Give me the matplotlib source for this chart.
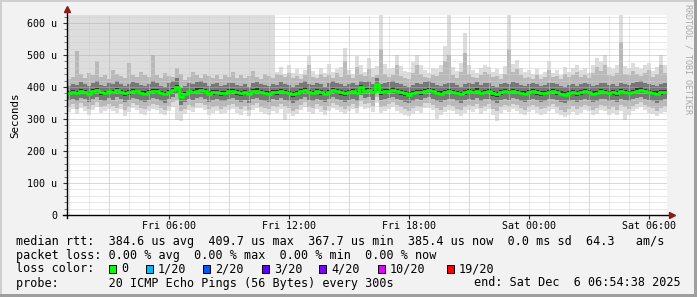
import numpy as np
import matplotlib
matplotlib.use("Agg")
from matplotlib import pyplot
from matplotlib.patches import Rectangle

# one sample every 12 minutes, hours counted from Fri 00:00
start_hour = 0.9106
step_hour = 0.2

# median rtt in microseconds
median = [
    382, 385, 380, 388, 384, 379, 386, 390, 383, 381, 387, 384, 391, 385, 380, 383, 388, 386, 382, 379,
    384, 389, 386, 381, 378, 385, 392, 401, 368, 378, 386, 384, 389, 391, 386, 379, 383, 385, 380, 382,
    386, 388, 383, 380, 384, 378, 386, 389, 384, 381, 379, 385, 383, 388, 384, 382, 377, 381, 386, 392,
    384, 381, 387, 383, 378, 385, 390, 386, 383, 380, 384, 387, 382, 399, 389, 391, 384, 409, 383, 386,
    388, 392, 386, 383, 380, 376, 381, 385, 383, 388, 390, 386, 382, 379, 384, 387, 385, 381, 378, 383,
    386, 384, 389, 382, 385, 387, 380, 377, 383, 386, 384, 388, 385, 382, 379, 384, 386, 383, 380, 382,
    385, 387, 383, 379, 376, 381, 384, 380, 383, 386, 384, 379, 382, 387, 385, 381, 383, 380, 386, 384,
    381, 385, 389, 392, 387, 384, 382, 379, 383, 385,
]
# smoke: slowest / fastest ping of each sample
ping_max = [700] * 52 + [
    448, 462, 440, 470, 445, 456, 442, 452, 497, 450,
    438, 460, 444, 472, 448, 455, 463, 522, 452, 440,
    497, 470, 447, 490, 458, 465, 700, 472, 455, 460,
    501, 466, 450, 447, 478, 501, 470, 452, 445, 460,
    455, 470, 528, 700, 462, 450, 475, 569, 468, 452,
    445, 458, 470, 462, 448, 455, 440, 466, 700, 472,
    485, 458, 446, 452, 440, 455, 437, 448, 481, 445,
    452, 438, 463, 448, 458, 470, 452, 460, 445, 468,
    490, 478, 500, 462, 455, 470, 700, 466, 458, 474,
    462, 455, 468, 475, 450, 462, 500, 470,
]
ping_min = [
    322, 330, 316, 334, 325, 312, 328, 336, 318, 324, 332, 326, 319, 331, 310, 322, 334, 327, 317, 314,
    324, 332, 328, 316, 311, 326, 336, 298, 294, 315, 329, 321, 333, 335, 327, 313, 319, 325, 315, 320,
    328, 332, 320, 314, 324, 310, 329, 333, 322, 317, 313, 326, 319, 332, 297, 318, 309, 315, 327, 336,
    322, 316, 331, 323, 312, 326, 334, 328, 321, 315, 324, 331, 318, 340, 332, 334, 323, 350, 319, 325,
    330, 336, 326, 320, 313, 308, 316, 325, 319, 333, 335, 327, 300, 311, 322, 329, 324, 315, 310, 320,
    327, 323, 332, 317, 325, 330, 314, 294, 320, 328, 323, 331, 326, 317, 312, 321, 328, 320, 313, 317,
    324, 330, 319, 311, 305, 314, 323, 313, 320, 329, 324, 311, 317, 329, 325, 314, 320, 312, 326, 297,
    314, 325, 332, 337, 329, 320, 316, 309, 318, 323,
]
# 2nd slowest / 2nd fastest
ping_hi2 = [
    425, 432, 512, 440, 428, 445, 436, 481, 430, 438, 426, 452, 441, 433, 429, 475, 437, 430, 448, 436,
    430, 501, 438, 427, 444, 435, 430, 460, 442, 421, 432, 448, 436, 429, 440, 433, 427, 438, 425, 436,
    431, 446, 429, 438, 427, 435, 450, 432, 426, 440, 433, 428, 442, 436, 430, 445, 428, 434, 425, 438,
    470, 432, 428, 441, 430, 437, 428, 444, 432, 480, 436, 428, 462, 440, 433, 455, 431, 438, 520, 442,
    430, 436, 468, 434, 428, 426, 444, 470, 440, 431, 428, 438, 433, 446, 480, 500, 436, 429, 448, 505,
    442, 432, 428, 436, 448, 440, 430, 434, 426, 441, 520, 446, 455, 436, 428, 432, 425, 436, 424, 431,
    452, 430, 434, 424, 440, 431, 437, 446, 432, 438, 428, 444, 462, 450, 470, 436, 433, 445, 540, 441,
    436, 450, 440, 434, 444, 452, 431, 440, 468, 445,
]
ping_lo2 = [
    338, 346, 332, 350, 341, 330, 344, 352, 336, 340, 348, 342, 335, 347, 329, 338, 350, 343, 334, 331,
    340, 348, 344, 333, 328, 342, 352, 360, 325, 331, 345, 338, 349, 351, 343, 330, 336, 341, 332, 337,
    344, 348, 337, 331, 340, 327, 345, 349, 339, 334, 330, 342, 336, 348, 340, 335, 326, 332, 343, 352,
    339, 333, 347, 340, 329, 342, 350, 344, 338, 332, 341, 347, 335, 357, 348, 350, 340, 368, 336, 342,
    346, 352, 343, 337, 330, 325, 333, 341, 336, 349, 351, 343, 334, 328, 339, 345, 341, 332, 327, 337,
    343, 340, 348, 334, 342, 346, 331, 326, 337, 344, 340, 347, 343, 334, 329, 338, 344, 337, 330, 334,
    341, 346, 336, 328, 322, 331, 340, 330, 337, 345, 341, 328, 334, 345, 342, 331, 337, 329, 343, 339,
    331, 342, 348, 353, 345, 337, 333, 326, 335, 340,
]
# 5th slowest / 5th fastest
ping_hi5 = [
    404, 410, 406, 415, 408, 402, 412, 418, 407, 404, 414, 409, 420, 410, 404, 409, 416, 412, 405, 402,
    408, 418, 412, 404, 401, 411, 420, 428, 398, 402, 412, 408, 416, 418, 412, 403, 409, 411, 404, 406,
    412, 414, 407, 403, 409, 401, 412, 416, 408, 405, 402, 410, 407, 415, 409, 406, 400, 405, 412, 420,
    410, 405, 414, 408, 401, 411, 418, 412, 408, 404, 410, 414, 406, 420, 416, 420, 410, 428, 408, 414,
    415, 420, 412, 408, 404, 400, 405, 411, 408, 416, 418, 412, 406, 403, 410, 414, 411, 405, 401, 409,
    412, 409, 416, 406, 411, 414, 404, 400, 408, 413, 410, 416, 412, 406, 403, 410, 413, 408, 404, 406,
    411, 414, 408, 403, 400, 405, 410, 404, 408, 413, 410, 403, 407, 414, 412, 405, 409, 404, 413, 410,
    405, 411, 417, 420, 414, 409, 406, 402, 408, 411,
]
ping_lo5 = [
    360, 364, 356, 366, 361, 352, 363, 368, 358, 357, 365, 360, 368, 362, 354, 358, 366, 362, 356, 352,
    360, 366, 362, 355, 350, 361, 370, 378, 345, 352, 363, 360, 366, 368, 362, 353, 358, 361, 355, 357,
    362, 365, 358, 354, 360, 351, 363, 366, 359, 356, 352, 361, 358, 365, 360, 357, 350, 355, 362, 370,
    360, 356, 364, 359, 352, 361, 368, 362, 358, 354, 360, 364, 357, 375, 366, 368, 360, 386, 358, 362,
    365, 370, 362, 358, 353, 349, 355, 361, 358, 366, 368, 362, 356, 352, 359, 363, 361, 355, 351, 358,
    362, 360, 366, 357, 361, 364, 355, 350, 358, 362, 360, 365, 361, 357, 353, 359, 362, 358, 354, 357,
    361, 364, 358, 352, 349, 355, 360, 354, 358, 363, 360, 352, 356, 363, 361, 355, 358, 353, 362, 359,
    355, 361, 366, 370, 363, 359, 356, 351, 357, 361,
]
# 9th slowest / 9th fastest
ping_hi9 = [
    389, 391, 387, 394, 391, 385, 393, 397, 389, 388, 392, 390, 398, 391, 387, 390, 395, 392, 388, 386,
    391, 395, 393, 387, 385, 392, 398, 407, 374, 385, 392, 391, 396, 397, 393, 386, 390, 392, 387, 389,
    393, 395, 390, 386, 391, 385, 393, 396, 390, 388, 386, 392, 390, 395, 391, 389, 384, 388, 393, 399,
    391, 388, 394, 390, 385, 392, 397, 393, 390, 387, 391, 394, 389, 405, 396, 398, 391, 414, 390, 393,
    395, 399, 393, 390, 387, 383, 388, 392, 390, 395, 397, 393, 389, 386, 391, 394, 392, 388, 385, 390,
    393, 391, 396, 389, 392, 394, 387, 384, 390, 393, 391, 395, 392, 389, 386, 391, 393, 390, 387, 389,
    392, 394, 390, 386, 383, 388, 391, 387, 390, 393, 391, 386, 389, 394, 392, 388, 390, 387, 393, 391,
    388, 392, 396, 399, 394, 391, 389, 386, 390, 392,
]
ping_lo9 = [
    376, 378, 374, 381, 377, 373, 379, 383, 376, 374, 380, 377, 384, 378, 373, 376, 381, 379, 375, 372,
    377, 382, 379, 374, 371, 378, 385, 394, 362, 371, 379, 377, 382, 384, 379, 372, 376, 378, 373, 375,
    379, 381, 376, 373, 377, 371, 379, 382, 377, 374, 372, 378, 376, 381, 377, 375, 370, 374, 379, 385,
    377, 374, 380, 376, 371, 378, 383, 379, 376, 373, 377, 380, 375, 392, 382, 384, 377, 402, 376, 379,
    381, 385, 379, 376, 373, 369, 374, 378, 376, 381, 383, 379, 375, 372, 377, 380, 378, 374, 371, 376,
    379, 377, 382, 375, 378, 380, 373, 370, 376, 379, 377, 381, 378, 375, 372, 377, 379, 376, 373, 375,
    378, 380, 376, 372, 369, 374, 377, 373, 376, 379, 377, 372, 375, 380, 378, 374, 376, 373, 379, 377,
    374, 378, 382, 385, 380, 377, 375, 372, 376, 378,
]

tick_hours = [6, 12, 18, 24, 30]
tick_labels = ["Fri 06:00", "Fri 12:00", "Fri 18:00", "Sat 00:00", "Sat 06:00"]
y_labels = ["0", "100 u", "200 u", "300 u", "400 u", "500 u", "600 u"]

legend_rows = [
    "median rtt:  384.6 us avg  409.7 us max  367.7 us min  385.4 us now  0.0 ms sd  64.3   am/s",
    "packet loss: 0.00 % avg  0.00 % max  0.00 % min  0.00 % now",
    "loss color:",
    "probe:       20 ICMP Echo Pings (56 Bytes) every 300s",
]
loss_labels = ["0", "1/20", "2/20", "3/20", "4/20", "10/20", "19/20"]
loss_colors = ["#00ff00", "#00b8ff", "#0059ff", "#5e00ff", "#7e00ff", "#dd00ff", "#ff0000"]
end_text = "end: Sat Dec  6 06:54:38 2025"

W, H = 697, 297
MONO = "DejaVu Sans Mono"

n = len(median)
xs = start_hour + step_hour * np.arange(n + 1)


def ext(a):
    a = np.asarray(a, dtype=float)
    return np.append(a, a[-1])


fig = pyplot.figure(figsize=(W / 100, H / 100), dpi=100, facecolor="#f2f2f2")
ax = fig.add_axes([67 / W, 82 / H, 600 / W, 200 / H])
ax.set_facecolor("white")

# smoke bands, outermost first
bands = [
    (ping_min, ping_max, "#dddddd"),
    (ping_lo2, ping_hi2, "#b9b9b9"),
    (ping_lo5, ping_hi5, "#777777"),
    (ping_lo9, ping_hi9, "#343434"),
]
for i, (lo, hi, col) in enumerate(bands):
    ax.fill_between(xs, ext(lo), ext(hi), step="post", color=col, lw=0, zorder=1 + i)

# grid on top of the smoke, rrdtool style
dots = (0, (1, 1))
x0, x1 = start_hour, start_hour + n * step_hour
for h in range(1, 31):
    major = h % 6 == 3
    ax.axvline(h, color="#dba0a0" if major else "#d0d0d0", lw=0.72, ls=dots, zorder=6)
for v in range(20, 621, 20):
    major = v % 100 == 0
    ax.axhline(v, color="#dba0a0" if major else "#d0d0d0", lw=0.72, ls=dots, zorder=6)

ax.step(xs, ext(median), where="post", color="#00ff00", lw=2.0, zorder=8)

ax.set_xlim(x0, x1)
ax.set_ylim(0, 625)
for s in ax.spines.values():
    s.set_visible(False)

ax.set_xticks(tick_hours)
ax.set_xticklabels(tick_labels, fontfamily=MONO, fontsize=7.2)
ax.set_yticks(range(0, 601, 100))
ax.set_yticklabels(y_labels, fontfamily=MONO, fontsize=7.2)
ax.set_yticks(range(0, 621, 20), minor=True)
ax.tick_params(axis="both", which="major", length=3, width=0.8, color="#333333", pad=4)
ax.tick_params(axis="x", which="major", pad=1.5)
ax.tick_params(axis="y", which="minor", length=2, width=0.6, color="#666666")
ax.set_ylabel("Seconds", fontfamily=MONO, fontsize=7.8, labelpad=5)

# axis lines with small arrow heads
ax.plot([-4 / 600, 1.003], [0, 0], transform=ax.transAxes, color="black", lw=1, clip_on=False, zorder=9)
ax.plot([0, 0], [-3 / 200, 1.03], transform=ax.transAxes, color="black", lw=1, clip_on=False, zorder=9)
ax.plot([1.008], [0], transform=ax.transAxes, marker=">", ms=4.5, color="#8b1a1a", clip_on=False, zorder=10)
ax.plot([0], [1.03], transform=ax.transAxes, marker="^", ms=4.5, color="#8b1a1a", clip_on=False, zorder=10)

fig.text(688 / W, 1 - 4 / H, "RRDTOOL / TOBI OETIKER", rotation=270, ha="center", va="top",
         fontfamily=MONO, fontsize=6, color="#a8a8a8")

# legend block
row_y = [241, 255, 269, 283]
for txt, y in zip(legend_rows, row_y):
    fig.text(16 / W, 1 - y / H, txt, ha="left", va="center", fontfamily=MONO, fontsize=8.5)
fig.text(681 / W, 1 - row_y[3] / H, end_text, ha="right", va="center", fontfamily=MONO, fontsize=8.5)

box_x = [109, 146, 203, 262, 319, 378, 447]
for bx, lab, col in zip(box_x, loss_labels, loss_colors):
    fig.add_artist(Rectangle((bx / W, 1 - (row_y[2] + 4) / H), 7 / W, 8 / H, transform=fig.transFigure,
                             facecolor=col, edgecolor="black", lw=0.7))
    fig.text((bx + 12) / W, 1 - row_y[2] / H, lab, ha="left", va="center", fontfamily=MONO, fontsize=8.5)

# frame shading
fig.add_artist(Rectangle((0, 1 - 2 / H), 1, 2 / H, transform=fig.transFigure, color="#cfcfcf", lw=0))
fig.add_artist(Rectangle((0, 0), 2 / W, 1, transform=fig.transFigure, color="#cfcfcf", lw=0))
fig.add_artist(Rectangle((0, 0), 1, 3 / H, transform=fig.transFigure, color="#9e9e9e", lw=0))
fig.add_artist(Rectangle((1 - 3 / W, 0), 3 / W, 1, transform=fig.transFigure, color="#9e9e9e", lw=0))

fig.savefig("out.png", dpi=100, facecolor=fig.get_facecolor())
